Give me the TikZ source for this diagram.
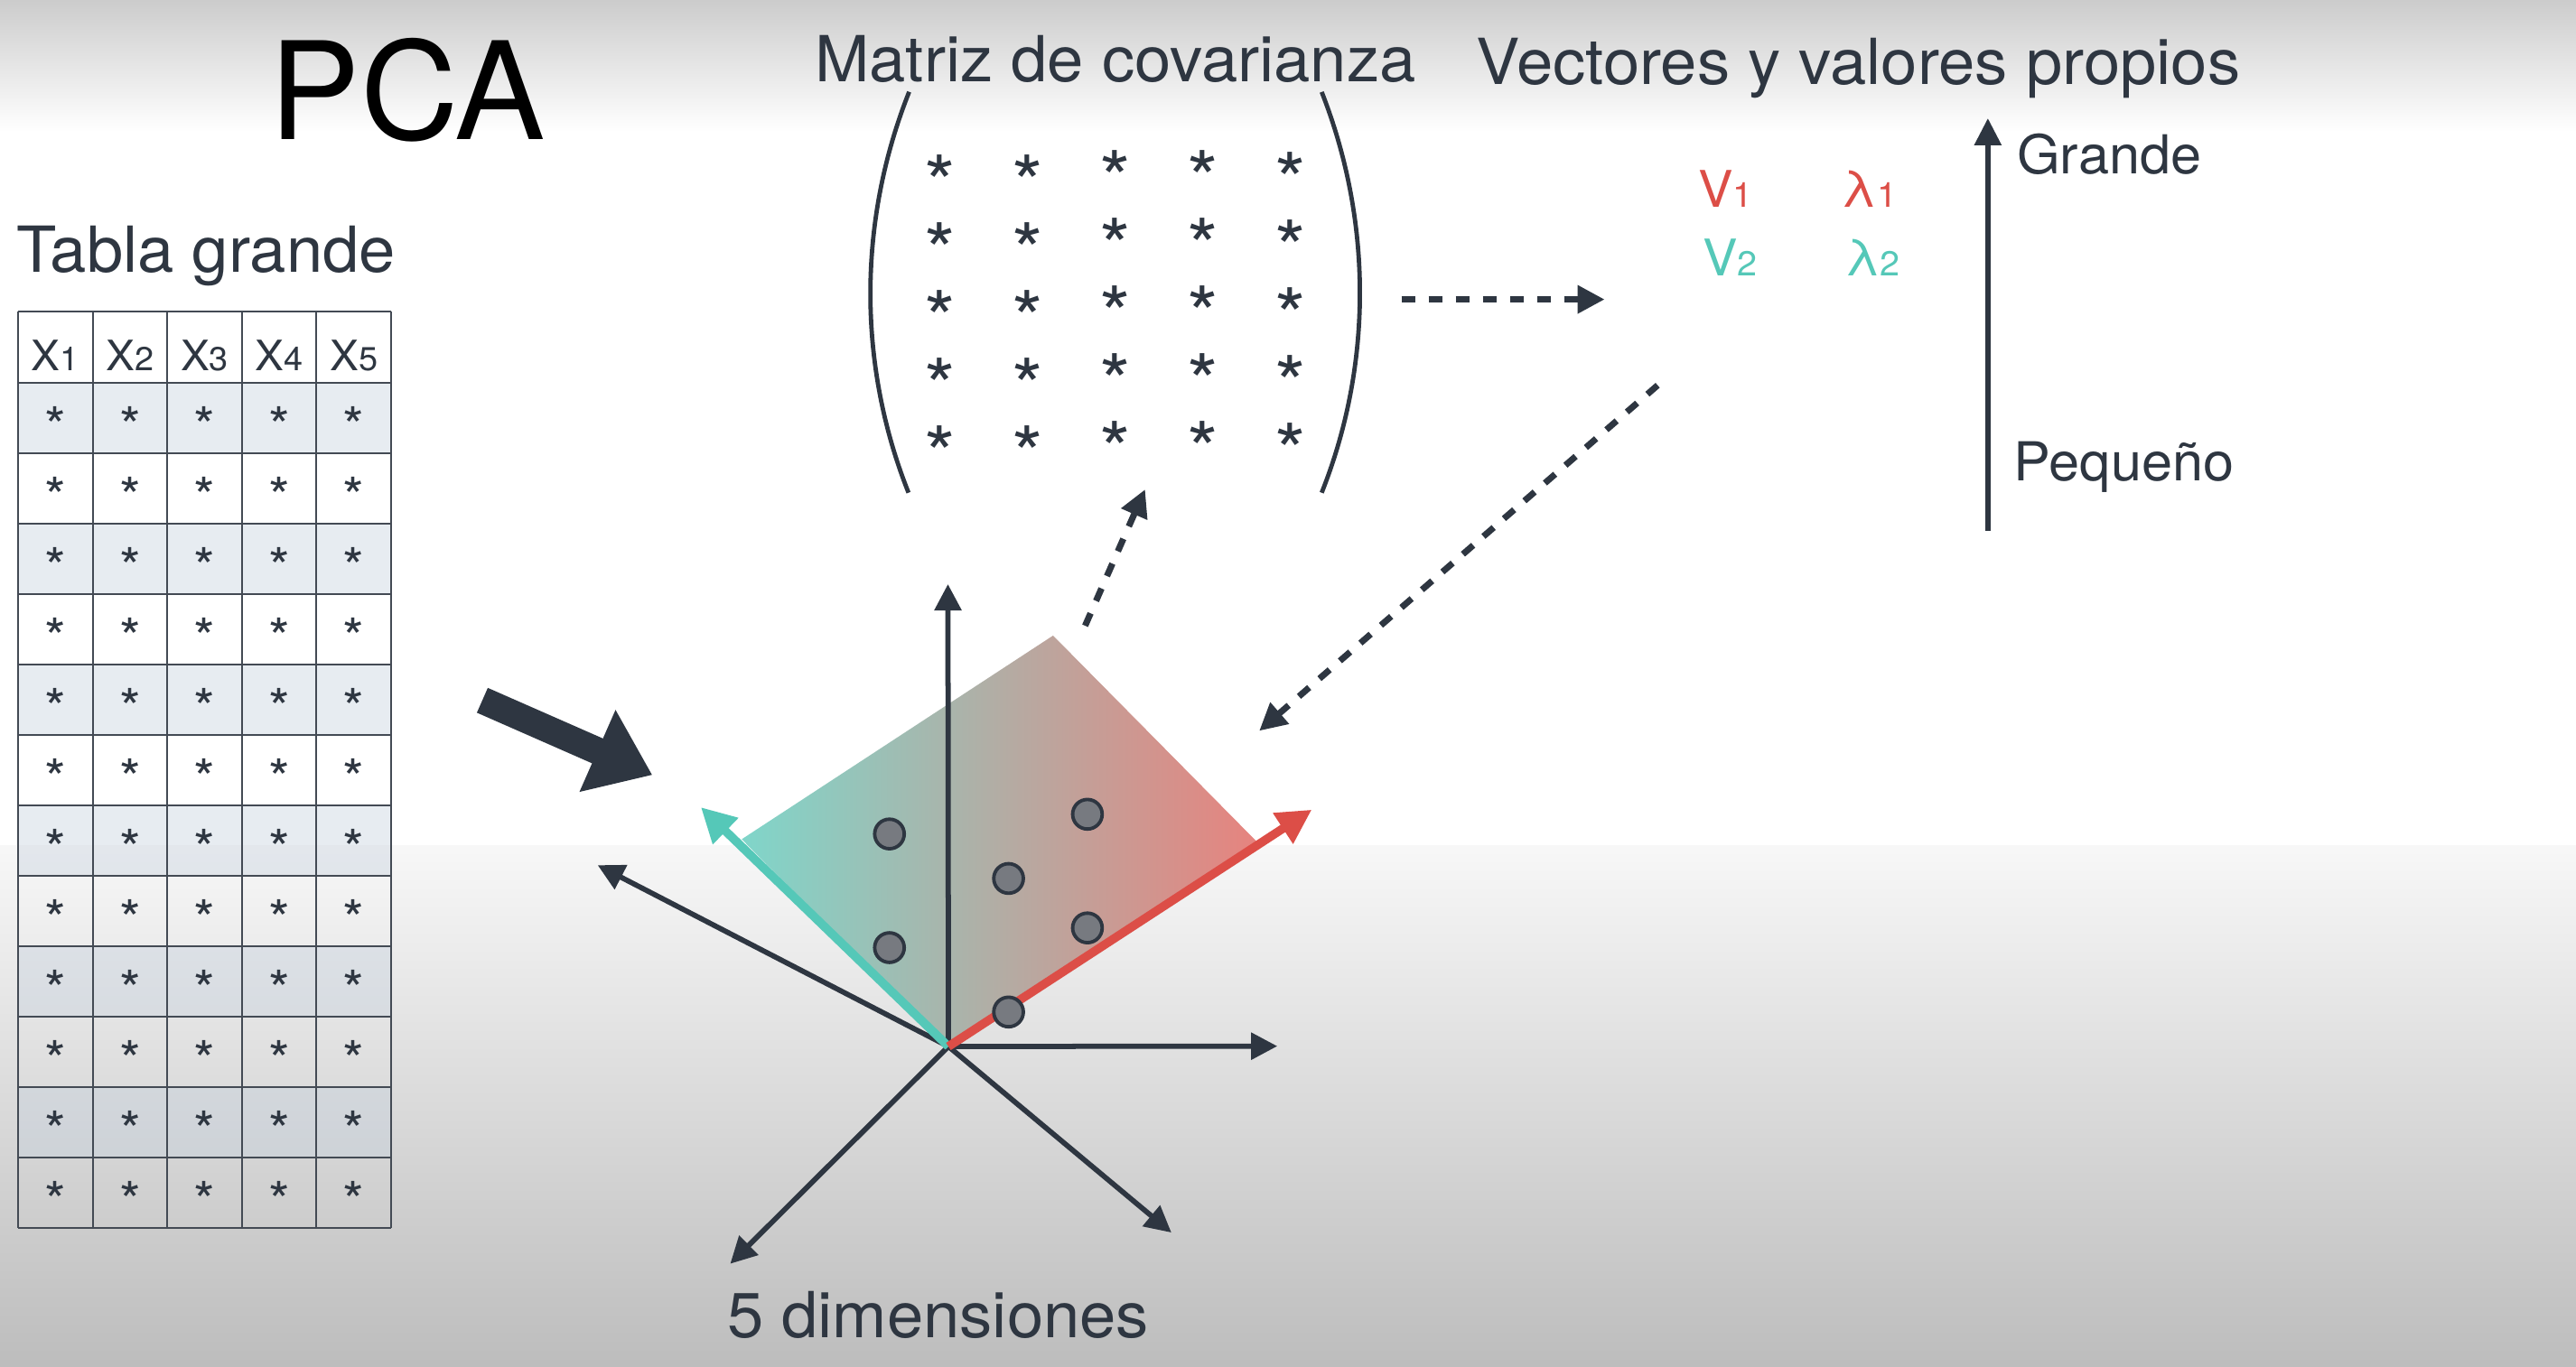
\documentclass[tikz,border=0pt]{standalone}
\usepackage{fontspec}
\setmainfont[FakeStretch=1.03]{TeX Gyre Heros}
\newfontfamily\titlefont{TeX Gyre Heros}
\usepackage{xcolor}
\usetikzlibrary{arrows.meta}

\definecolor{ink}{HTML}{2E3641}
\definecolor{pcred}{HTML}{DC4E47}
\definecolor{pcteal}{HTML}{55C8B8}
\definecolor{dotgray}{HTML}{777A80}
\definecolor{rowtint}{HTML}{C5D0DD}

\newcommand{\ctrstar}{\smash{\raisebox{-0.5745em}{*}}}

\begin{document}
\begin{tikzpicture}[x=0.2mm, y=-0.2mm, >=Triangle]

			% Styles
			\tikzstyle{grid} = [draw=ink!90, line width=0.6pt]
			\tikzstyle{cellstar} = [inner sep=0pt, text=ink, font=\fontsize{18.5}{18}\selectfont]
			\tikzstyle{matstar} = [inner sep=0pt, text=ink, font=\fontsize{27}{27}\selectfont]
			\tikzstyle{colhead} = [anchor=base, inner sep=0pt, text=ink, font=\fontsize{14.5}{14}\selectfont]
			\tikzstyle{heading} = [anchor=base west, inner sep=0pt, text=ink, font=\fontsize{22}{26}\selectfont]
			\tikzstyle{scalelabel} = [anchor=base west, inner sep=0pt, text=ink, font=\fontsize{18.6}{22}\selectfont]
			\tikzstyle{eig} = [anchor=base west, inner sep=0pt, font=\fontsize{17.5}{20}\selectfont]
			\tikzstyle{paren} = [draw=ink, line width=1.5pt]
			\tikzstyle{axis} = [draw=ink, line width=1.8pt, -{Triangle[length=3.2mm, width=3.2mm]}]
			\tikzstyle{pcarrow} = [line width=3pt, -{Triangle[length=4.2mm, width=4.2mm]}]
			\tikzstyle{dasharrow} = [draw=ink, line width=2.2pt, dash pattern=on 4.7pt off 4.7pt, -{Triangle[length=3.3mm, width=3.3mm]}]
			\tikzstyle{dot} = [circle, fill=dotgray, draw=ink, line width=1.2pt, minimum size=3.6mm, inner sep=0pt]

			\useasboundingbox (0,0) rectangle (1568,832);

			% Background
			\fill[white] (0,0) rectangle (1568,832);
			\shade[top color=black!20, middle color=black!5, bottom color=white] (0,0) rectangle (1568,80);
			\shade[top color=black!3, bottom color=black!26] (0,515) rectangle (1568,832);

			% Table
			\foreach \r in {1,3,...,11}
				\fill[rowtint, opacity=0.4] (11,{233+(\r-1)*42.9}) rectangle (238,{233+\r*42.9});
			\foreach \c in {0,...,5}
				\draw[grid] ({11+\c*45.4},189.7) -- ({11+\c*45.4},747.8);
			\draw[grid] (11,189.7) -- (238,189.7);
			\foreach \r in {0,...,12}
				\draw[grid] (11,{233+\r*42.9}) -- (238,{233+\r*42.9});
			\foreach \c in {1,...,5}
				\node[colhead] (h\c) at ({11+(\c-0.5)*45.4},225.8) {X{\fontsize{11.5}{11}\selectfont\c}};
			\foreach \r in {1,...,12}
				\foreach \c in {1,...,5}
					\node[cellstar] (s\r-\c) at ({11+(\c-0.5)*45.4},{233+(\r-0.5)*42.9-2}) {\ctrstar};

			% Covariance matrix
			\draw[paren] (553.4,55.9) .. controls (522,135) and (522,222) .. (553,300);
			\draw[paren] (804.5,56) .. controls (835.5,135) and (835.5,222) .. (804.5,300);
			\foreach \c/\dy in {0/0,1/0,2/-2.7,3/-2.7,4/-1.5}
				\foreach \r in {0,...,4}
					\node[matstar] (m\r-\c) at ({572.3+\c*53.3},{101.7+\r*41.2+\dy}) {\ctrstar};

			% Eigen pairs and scale
			\node[eig, text=pcred] (v1) at (1033.3,126.4) {V{\fontsize{12}{12}\selectfont 1}};
			\node[eig, text=pcred] (l1) at (1120.5,126.4) {λ{\fontsize{12}{12}\selectfont 1}};
			\node[eig, text=pcteal] (v2) at (1036,167.7) {V{\fontsize{12}{12}\selectfont 2}};
			\node[eig, text=pcteal] (l2) at (1122.4,167.7) {λ{\fontsize{12}{12}\selectfont 2}};
			\coordinate (small) at (1210,323);
			\coordinate (big) at (1210,72);
			\draw[draw=ink, line width=1.8pt, -{Triangle[length=3.3mm, width=3.2mm]}] (small) -- (big);
			\node[scalelabel] (grande) at (1227.5,106) {Grande};
			\node[scalelabel] (pequeno) at (1225.5,293) {Pequeño};

			% Plane and axes
			\coordinate (o) at (577.3,637.2);
			\coordinate (pl) at (451.5,511);
			\coordinate (pt) at (641,387);
			\coordinate (pr) at (765.5,513);
			\shade[left color=pcteal!75!white, middle color=black!30!pcteal!40!pcred!60!white, right color=pcred!70!white] (o) -- (pl) -- (pt) -- (pr) -- cycle;
			\coordinate (ax1) at (577,355.7);
			\coordinate (ax2) at (777.5,637);
			\coordinate (ax3) at (363.8,526.8);
			\coordinate (ax4) at (444.5,769.5);
			\coordinate (ax5) at (713,750.5);
			\foreach \a in {1,...,5}
				\draw[axis] (o) -- (ax\a);
			\coordinate (v2tip) at (426.6,491.5);
			\coordinate (v1tip) at (798.5,493);
			\draw[pcarrow, draw=pcteal, fill=pcteal] (o) -- (v2tip);
			\draw[pcarrow, draw=pcred, fill=pcred] (o) -- (v1tip);
			\node[dot] (d1) at (541.4,507.8) {};
			\node[dot] (d2) at (661.9,495.8) {};
			\node[dot] (d3) at (613.9,534.9) {};
			\node[dot] (d4) at (661.9,565) {};
			\node[dot] (d5) at (541.4,577) {};
			\node[dot] (d6) at (613.9,616.2) {};

			% Flow arrows
			\coordinate (bigtail) at (293.6,426.4);
			\coordinate (bighead) at (397.1,471.9);
			\draw[draw=ink, line width=3.3mm, -{Triangle[length=7.3mm, width=10.4mm]}] (bigtail) -- (bighead);
			\coordinate (covout) at (853,182.3);
			\coordinate (eigin) at (976.7,182.3);
			\coordinate (eigout) at (1009,234.6);
			\coordinate (planein) at (766.5,445);
			\coordinate (planeout) at (660.5,381);
			\coordinate (covin) at (697,298);
			\draw[dasharrow] (covout) -- (eigin);
			\draw[dasharrow] (eigout) -- (planein);
			\draw[dasharrow] (planeout) -- (covin);

			% Titles
			\node[anchor=base west, inner sep=0pt, font=\titlefont\fontsize{47}{50}\selectfont] (title) at (164,84.7) {PCA};
			\node[heading] (tabla) at (10,165.6) {Tabla grande};
			\node[heading] (covtitle) at (495.7,49.5) {Matriz de covarianza};
			\node[heading] (eigtitle) at (898.5,51.3) {Vectores y valores propios};
			\node[heading] (dims) at (442.3,814.6) {5 dimensiones};

		\end{tikzpicture}
\end{document}
